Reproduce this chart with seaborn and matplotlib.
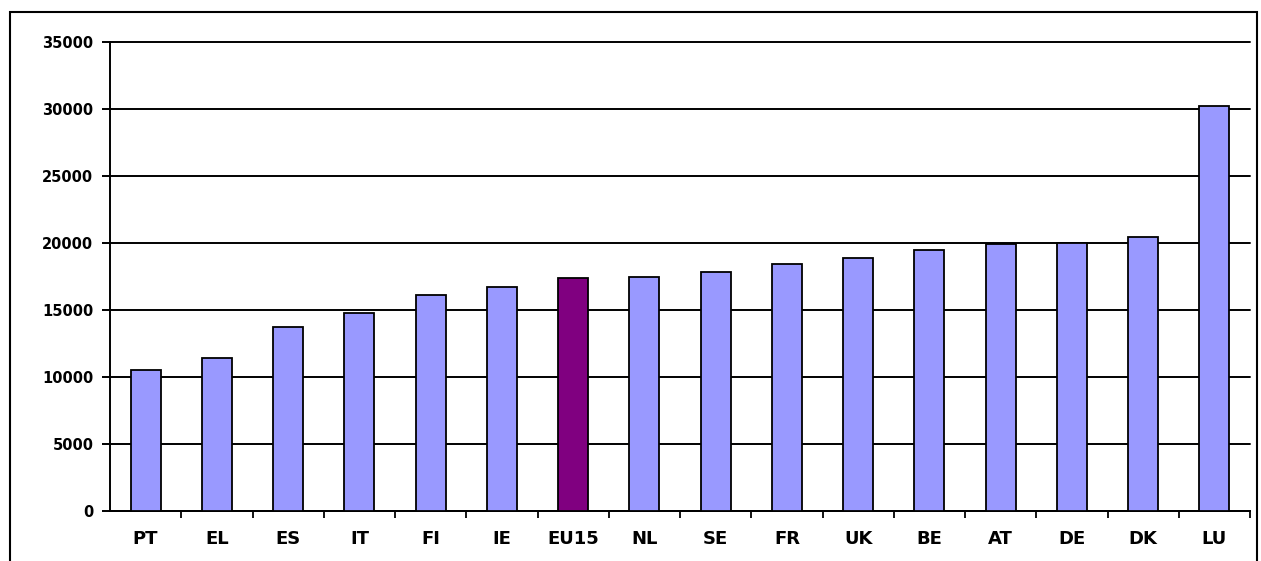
import matplotlib

matplotlib.use("Agg")
import matplotlib.pyplot as plt
import pandas as pd
import seaborn as sns
from matplotlib.patches import Rectangle

countries = ["PT", "EL", "ES", "IT", "FI", "IE", "EU15", "NL",
             "SE", "FR", "UK", "BE", "AT", "DE", "DK", "LU"]
values = [10500, 11400, 13700, 14800, 16150, 16750, 17400, 17450,
          17850, 18400, 18900, 19500, 19950, 20000, 20450, 30200]
highlight = "EU15"

df = pd.DataFrame({"country": countries, "value": values})

sns.set_style("white")
plt.rcParams["font.family"] = ["DejaVu Sans"]

fig = plt.figure(figsize=(12.61, 5.61), dpi=100)
ax = fig.add_axes([110 / 1261, 1 - 511 / 561, 1140 / 1261, 469 / 561])

palette = {c: ("#800080" if c == highlight else "#9999FF") for c in countries}
sns.barplot(data=df, x="country", y="value", hue="country", palette=palette,
            width=0.42, edgecolor="black", linewidth=1.3, saturation=1,
            legend=False, ax=ax, zorder=3)

ax.set_xlim(-0.5, len(countries) - 0.5)
ax.set_ylim(0, 35000)
ax.set_yticks(range(0, 35001, 5000))
ax.yaxis.grid(True, color="black", linewidth=1.4, zorder=0)
for gl in ax.get_ygridlines():
    gl.set_clip_on(False)
ax.set_axisbelow(True)
ax.set_xlabel("")
ax.set_ylabel("")

for side in ["top", "right"]:
    ax.spines[side].set_visible(False)
for side in ["left", "bottom"]:
    ax.spines[side].set_linewidth(1.4)
    ax.spines[side].set_color("black")

# ticks between categories at the bottom, category labels in the middle
ax.set_xticks([i - 0.5 for i in range(1, len(countries) + 1)], minor=True)
ax.tick_params(axis="x", which="major", bottom=True, length=0, pad=14,
               labelsize=13, labelcolor="black")
ax.tick_params(axis="x", which="minor", bottom=True, length=5, width=1.3,
               direction="out", color="black")
ax.tick_params(axis="y", left=True, length=6, width=1.4, direction="out",
               color="black", labelsize=10.5, labelcolor="black", pad=6)
for lab in ax.get_xticklabels() + ax.get_yticklabels():
    lab.set_fontweight("bold")

# outer frame around the chart area
fig.patches.append(Rectangle((10 / 1261, -0.1), 1247 / 1261, 1.1 - 12 / 561,
                             transform=fig.transFigure, fill=False,
                             edgecolor="black", linewidth=1.5))

fig.savefig("out.png", dpi=100)
